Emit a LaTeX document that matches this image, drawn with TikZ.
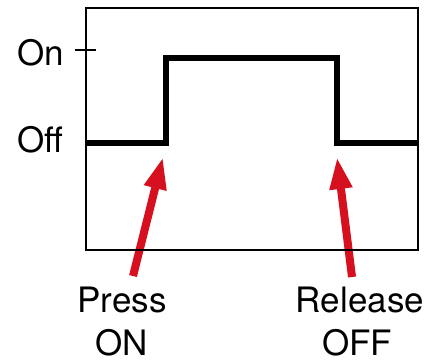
\documentclass[tikz,border=0pt]{standalone}
\usepackage{fontspec}
\setmainfont{TeX Gyre Heros}
\usetikzlibrary{arrows.meta}
\definecolor{arrowred}{RGB}{215,16,32}
\begin{document}
\begin{tikzpicture}[x=1pt,y=-1pt,
  frame/.style={draw=black,line width=2pt},
  signal/.style={draw=black,line width=5.5pt,line join=miter},
  pointer/.style={draw=arrowred,line width=8pt,-{Triangle[width=21pt,length=32pt]}},
  lbl/.style={font=\fontsize{35}{40}\selectfont,inner sep=0pt}]
\useasboundingbox (0,0) rectangle (441,362);
% arrows (behind frame)
\coordinate (ptail) at (133,276);
\coordinate (ptip) at (163,157);
\coordinate (rtail) at (352,277);
\coordinate (rtip) at (337,157);
\draw[pointer] (ptail) -- (ptip);
\draw[pointer] (rtail) -- (rtip);
% frame
\coordinate (fa) at (86,8);
\coordinate (fb) at (418,250);
\draw[frame] (fa) rectangle (fb);
% tick
\coordinate (t1) at (75,50);
\coordinate (t2) at (96,50);
\draw[frame] (t1) -- (t2);
% signal
\coordinate (s0) at (86,143);
\coordinate (s1) at (166,143);
\coordinate (s2) at (166,58);
\coordinate (s3) at (337,58);
\coordinate (s4) at (337,143);
\coordinate (s5) at (418,143);
\draw[signal] (s0) -- (s1) -- (s2) -- (s3) -- (s4) -- (s5);
% labels
\node[lbl,anchor=base west] (on) at (17,65) {On};
\node[lbl,anchor=base west] (off) at (17,152) {Off};
\node[lbl,anchor=base] (press) at (122,312) {Press};
\node[lbl,anchor=base] (onb) at (122,355) {ON};
\node[lbl,anchor=base] (rel) at (360,312) {Release};
\node[lbl,anchor=base] (offb) at (357,355) {OFF};
\end{tikzpicture}
\end{document}
